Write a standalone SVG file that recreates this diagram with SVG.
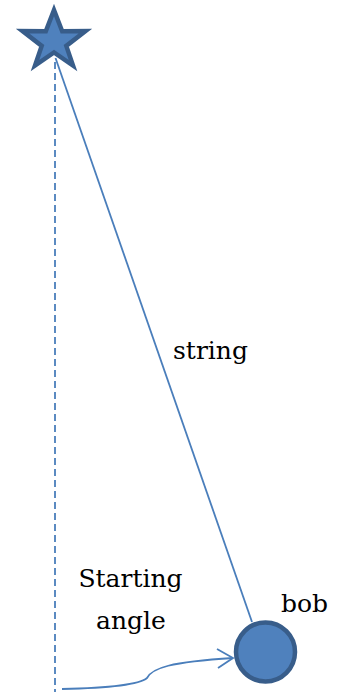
<svg xmlns="http://www.w3.org/2000/svg" width="339" height="696" viewBox="0 0 339 696">
<style>
.lbl{font-family:"DejaVu Serif","Liberation Serif",serif;font-size:25px;fill:#000}
.ln{stroke:#4a7ebb;stroke-width:1.8;fill:none}
</style>
<rect width="339" height="696" fill="#fff"/>
<g id="connectors">
<line class="ln" x1="55" y1="62" x2="55" y2="692" stroke-dasharray="7,4" stroke-width="2"/>
<line class="ln" x1="55.5" y1="58" x2="252" y2="622"/>
<path class="ln" d="M62,689 C110,688 140,684 147,678 C152,668 170,662 233,658"/>
<path class="ln" d="M217,649 L233,658 L218,668"/>
</g>
<g id="pivot">
<polygon points="54,10 62.2,31.3 85.5,31 66.3,45.9 73,65.5 54,52.5 35,65.5 41.7,45.9 22.5,31 45.8,31.3" fill="#4f81bd" stroke="#385d8a" stroke-width="4.5" stroke-linejoin="miter" stroke-miterlimit="10"/>
</g>
<g id="bob">
<circle cx="265.5" cy="652" r="29.5" fill="#4f81bd" stroke="#385d8a" stroke-width="4.5"/>
<text class="lbl" x="281" y="612">bob</text>
</g>
<g id="string-label">
<text class="lbl" x="173" y="359">string</text>
</g>
<g id="angle-label">
<text class="lbl" x="130.5" y="587" text-anchor="middle">Starting</text>
<text class="lbl" x="131" y="629" text-anchor="middle">angle</text>
</g>
</svg>
